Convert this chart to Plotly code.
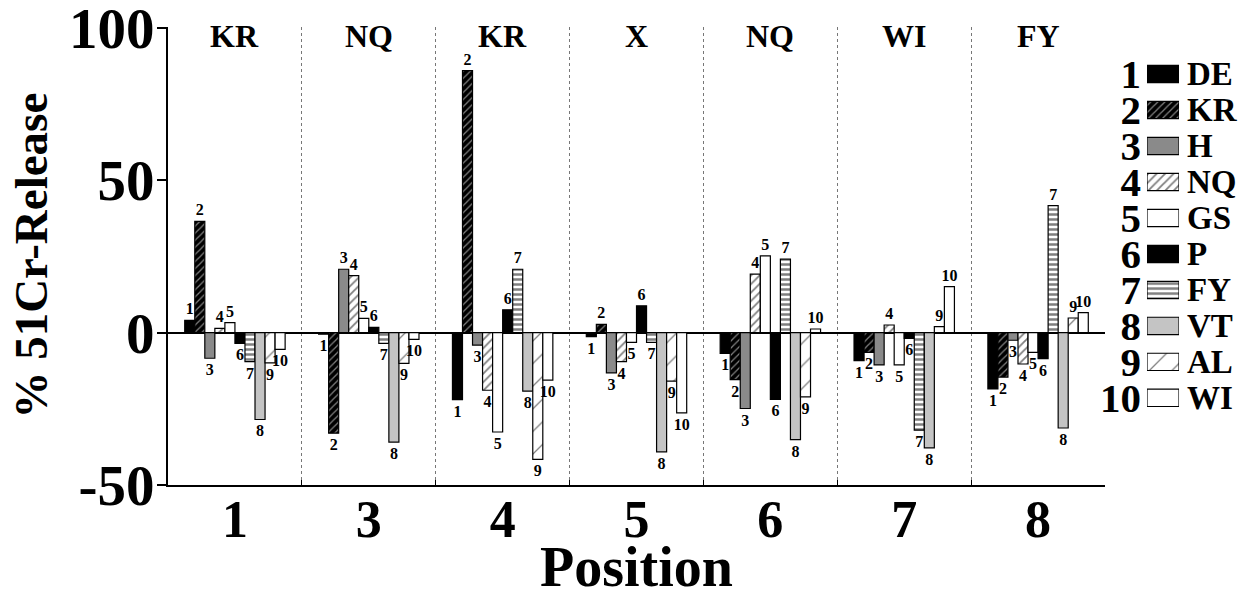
import plotly.graph_objects as go

# ---------------- data ----------------
positions = ["1", "3", "4", "5", "6", "7", "8"]
group_labels = ["KR", "NQ", "KR", "X", "NQ", "WI", "FY"]
series_numbers = ["1", "2", "3", "4", "5", "6", "7", "8", "9", "10"]
series_names = ["DE", "KR", "H", "NQ", "GS", "P", "FY", "VT", "AL", "WI"]
y_tick_values = [-50, 0, 50, 100]
y_tick_text = ["-50", "0", "50", "100"]

DE = [4.0, -0.5, -22.0, -1.3, -6.8, -9.2, -18.5]
KR = [36.5, -33.0, 86.0, 2.7, -15.4, -6.5, -14.6]
H = [-8.4, 20.8, -4.1, -13.2, -24.9, -10.6, -2.5]
NQ = [1.4, 18.7, -18.9, -9.5, 19.2, 2.5, -10.3]
GS = [3.3, 4.7, -32.6, -3.2, 25.2, -10.6, -6.5]
P = [-3.5, 1.7, 7.5, 8.8, -21.9, -1.9, -8.5]
FY = [-9.5, -3.5, 20.8, -3.2, 24.1, -32.0, 41.7]
VT = [-28.5, -35.9, -19.2, -39.1, -35.1, -37.8, -31.3]
AL = [-9.9, -10.1, -41.6, -15.9, -21.1, 2.0, 4.8]
WI = [-5.5, -2.2, -15.6, -26.3, 1.2, 15.1, 6.6]

series_values = [DE, KR, H, NQ, GS, P, FY, VT, AL, WI]
legend_length = [1] * len(series_names)

# ---------------- styles ----------------
FONT = "Liberation Serif, Times New Roman, serif"

styles = [
    dict(color="black"),
    dict(color="black", pattern=dict(shape="/", fgcolor="white", bgcolor="black", size=5, solidity=0.25)),
    dict(color="#8a8a8a"),
    dict(color="white", pattern=dict(shape="/", fgcolor="black", bgcolor="white", size=6, solidity=0.3)),
    dict(color="white"),
    dict(color="black"),
    dict(color="white", pattern=dict(shape="-", fgcolor="black", bgcolor="white", size=5, solidity=0.5)),
    dict(color="#c4c4c4"),
    dict(color="white", pattern=dict(shape="/", fgcolor="black", bgcolor="white", size=16, solidity=0.08)),
    dict(color="white"),
]

def bold(size):
    return dict(family=FONT, size=size, color="black", weight="bold")

fig = go.Figure()

for num, name, vals, st in zip(series_numbers, series_names, series_values, styles):
    marker = dict(color=st["color"], line=dict(color="black", width=1.2))
    if "pattern" in st:
        marker["pattern"] = st["pattern"]
    fig.add_trace(go.Bar(
        x=positions, y=vals, name=name, marker=marker,
        text=[num] * len(vals), textposition="outside",
        textfont=bold(16), outsidetextfont=bold(16),
        constraintext="none", cliponaxis=False, showlegend=False,
        xaxis="x", yaxis="y",
    ))

# legend drawn as a small horizontal-bar subplot
for i, (num, name, length, st) in enumerate(zip(series_numbers, series_names, legend_length, styles)):
    marker = dict(color=st["color"], line=dict(color="black", width=1.2))
    if "pattern" in st:
        marker["pattern"] = st["pattern"]
    fig.add_trace(go.Bar(
        x=[length], y=[i], orientation="h", marker=marker,
        width=0.48, offset=-0.24, showlegend=False,
        xaxis="x2", yaxis="y2",
    ))
    fig.add_annotation(
        x=length, y=i, xref="x2", yref="y2", text=name,
        showarrow=False, xanchor="left", yanchor="middle", xshift=6,
        font=bold(33),
    )

# group labels at top
for i, lab in enumerate(group_labels):
    fig.add_annotation(
        x=i, y=97.5, xref="x", yref="y", text=lab,
        showarrow=False, xanchor="center", yanchor="middle",
        font=bold(32),
    )

# axis titles
fig.add_annotation(
    x=-0.127, y=0.5, xref="paper", yref="paper",
    text='% 51Cr-Release',
    textangle=-90, showarrow=False, xanchor="center", yanchor="middle",
    font=bold(47),
)
fig.add_annotation(
    x=0.433, y=-0.178, xref="paper", yref="paper", text="Position",
    showarrow=False, xanchor="center", yanchor="middle",
    font=bold(56),
)

fig.update_layout(
    width=1247, height=584,
    margin=dict(l=160, r=5, t=19, b=107, autoexpand=False),
    paper_bgcolor="white", plot_bgcolor="white",
    barmode="group", bargap=0.25, bargroupgap=0,
    font=dict(family=FONT, color="black"),
    xaxis=dict(
        domain=[0, 0.866], type="category", automargin=False,
        tickson="boundaries", ticks="inside", ticklen=5, tickcolor="black",
        showline=True, linecolor="black", linewidth=2,
        showgrid=True, gridcolor="#777777", griddash="dot", gridwidth=1,
        tickfont=bold(52), ticklabelstandoff=-12,
        zeroline=False,
    ),
    yaxis=dict(
        range=[-50, 100.3], tickmode="array", automargin=False,
        tickvals=y_tick_values, ticktext=y_tick_text,
        ticks="outside", ticklen=9, tickcolor="black", tickwidth=1.5,
        ticklabeloverflow="allow", ticklabelstandoff=-9,
        showline=True, linecolor="black", linewidth=2,
        showgrid=False, zeroline=True, zerolinecolor="black", zerolinewidth=2,
        tickfont=bold(57),
    ),
    xaxis2=dict(
        domain=[0.9048, 0.9344], anchor="y2", range=[0, 1], automargin=False,
        showticklabels=False, showgrid=False, zeroline=False, showline=False,
    ),
    yaxis2=dict(
        domain=[0.151, 0.9365], anchor="x2", automargin=False,
        range=[9.5, -0.5], showgrid=False, zeroline=False, showline=False,
        tickmode="array", tickvals=list(range(len(series_numbers))),
        ticktext=series_numbers,
        ticks="", ticklabelstandoff=5,
        tickfont=bold(41),
    ),
)

fig.write_html("out.html")
